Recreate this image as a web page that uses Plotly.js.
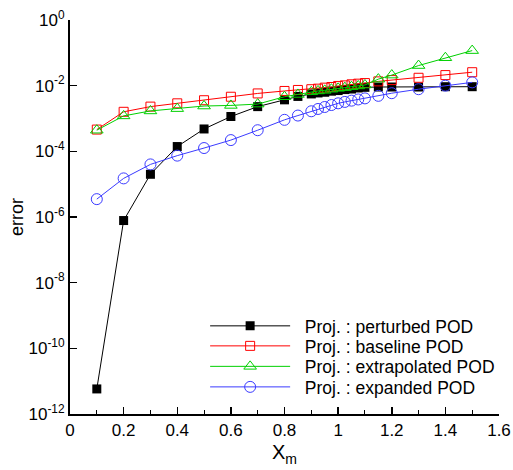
<!DOCTYPE html>
<html>
<head>
<meta charset="utf-8">
<script src="https://cdn.plot.ly/plotly-3.0.1.min.js"></script>
<style>html,body{margin:0;padding:0;background:#fff;}#chart{width:513px;height:470px;}</style>
</head>
<body>
<div id="chart"></div>
<script>
const xm = [0.1,0.2,0.3,0.4,0.5,0.6,0.7,0.8,0.85,0.9,0.925,0.95,0.975,1.0,1.025,1.05,1.075,1.1,1.15,1.2,1.3,1.4,1.5];
const perturbed = [5.8e-12,7.8e-7,2.0e-5,1.4e-4,4.8e-4,1.15e-3,2.3e-3,3.7e-3,4.7e-3,5.6e-3,6.0e-3,6.3e-3,6.8e-3,7.1e-3,7.6e-3,7.9e-3,8.5e-3,8.9e-3,9.1e-3,9.1e-3,9.1e-3,9.3e-3,9.3e-3];
const baseline = [4.6e-4,1.6e-3,2.3e-3,2.9e-3,3.6e-3,4.6e-3,5.8e-3,6.9e-3,7.4e-3,7.8e-3,8.1e-3,8.7e-3,9.1e-3,9.8e-3,1.02e-2,1.1e-2,1.15e-2,1.2e-2,1.35e-2,1.48e-2,1.74e-2,2.1e-2,2.57e-2];
const extrapolated = [4.4e-4,1.2e-3,1.7e-3,2.0e-3,2.4e-3,2.5e-3,2.75e-3,4.6e-3,5.4e-3,6.5e-3,6.9e-3,7.2e-3,7.8e-3,8.3e-3,8.7e-3,9.3e-3,9.8e-3,1.05e-2,1.58e-2,2.1e-2,4.1e-2,7.1e-2,1.17e-1];
const expanded = [3.5e-6,1.5e-5,4.0e-5,7.4e-5,1.26e-4,2.2e-4,4.4e-4,9.1e-4,1.23e-3,1.66e-3,1.95e-3,2.24e-3,2.57e-3,2.9e-3,3.2e-3,3.5e-3,3.8e-3,4.1e-3,4.9e-3,5.9e-3,7.8e-3,1.0e-2,1.26e-2];
const seriesNames = ['Proj. : perturbed POD','Proj. : baseline POD','Proj. : extrapolated POD','Proj. : expanded POD'];
const yTickVals = [1,1e-2,1e-4,1e-6,1e-8,1e-10,1e-12];
const yTickText = ['10<sup>0</sup>','10<sup>-2</sup>','10<sup>-4</sup>','10<sup>-6</sup>','10<sup>-8</sup>','10<sup>-10</sup>','10<sup>-12</sup>'];

const pad = '\u00a0\u00a0';
const traces = [
  {x: xm, y: perturbed, name: pad + seriesNames[0], mode: 'lines+markers', legend: 'legend',
   line: {color: '#000000', width: 1},
   marker: {symbol: 'square', size: 9, color: '#000000'}},
  {x: xm, y: baseline, name: pad + seriesNames[1], mode: 'lines+markers', legend: 'legend2',
   line: {color: '#ff0000', width: 1},
   marker: {symbol: 'square-open', size: 9, color: '#ff0000', line: {width: 1}}},
  {x: xm, y: extrapolated, name: pad + seriesNames[2], mode: 'lines+markers', legend: 'legend3',
   line: {color: '#00d000', width: 1},
   marker: {symbol: 'triangle-up-open', size: 11, color: '#00d000', line: {width: 1}}},
  {x: xm, y: expanded, name: pad + seriesNames[3], mode: 'lines+markers', legend: 'legend4',
   line: {color: '#3b3bff', width: 1},
   marker: {symbol: 'circle-open', size: 11, color: '#3b3bff', line: {width: 1}}}
];

function leg(y) {
  return {x: 0.315, y: y, xanchor: 'left', yanchor: 'middle', bgcolor: 'rgba(0,0,0,0)',
          font: {size: 17.5}, itemwidth: 80};
}

const layout = {
  width: 513, height: 470,
  margin: {l: 70, r: 14, t: 20, b: 56},
  paper_bgcolor: '#ffffff', plot_bgcolor: '#ffffff',
  font: {family: '"Liberation Sans", Arial, sans-serif', size: 17, color: '#000'},
  showlegend: true,
  legend: leg(0.2234),
  legend2: leg(0.1726),
  legend3: leg(0.1206),
  legend4: leg(0.0685),
  xaxis: {
    range: [0, 1.6], dtick: 0.2, tick0: 0,
    showgrid: false, zeroline: false,
    showline: true, linewidth: 2, linecolor: '#000',
    ticks: 'inside', ticklen: 7, tickwidth: 1.5, tickcolor: '#000',
    minor: {dtick: 0.1, ticks: 'inside', ticklen: 4, tickwidth: 1, tickcolor: '#000', showgrid: false},
    title: {text: 'X<sub>m</sub>', font: {size: 20}, standoff: 6}
  },
  yaxis: {
    type: 'log', range: [-12, 0],
    tickvals: yTickVals, ticktext: yTickText,
    showgrid: false, zeroline: false,
    showline: true, linewidth: 2, linecolor: '#000',
    ticks: 'inside', ticklen: 7, tickwidth: 1.5, tickcolor: '#000',
    title: {text: 'error', font: {size: 18}, standoff: 0}
  }
};

Plotly.newPlot('chart', traces, layout, {displayModeBar: false, staticPlot: true});
</script>
</body>
</html>
